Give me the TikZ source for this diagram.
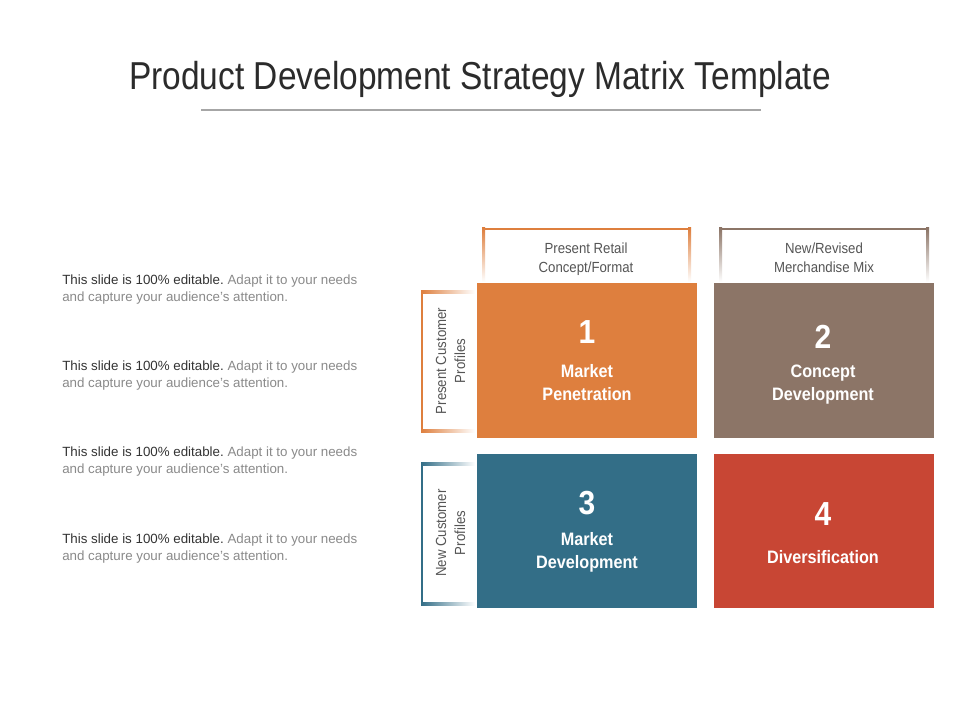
\documentclass[tikz,border=0pt]{standalone}
\usepackage{fontspec}
\setmainfont{Liberation Sans}
\newfontfamily\condfont{Liberation Sans}[FakeStretch=0.86]
\newfontfamily\headfont{Liberation Sans}[FakeStretch=0.9]
\newfontfamily\condbold{Liberation Sans Bold}[FakeStretch=0.9]
\definecolor{corange}{HTML}{DE7F3E}
\definecolor{cbrown}{HTML}{8C7567}
\definecolor{cblue}{HTML}{336E87}
\definecolor{cred}{HTML}{C84634}
\definecolor{ctitle}{HTML}{2B2B2B}
\definecolor{cgraytxt}{HTML}{8A8A8A}
\definecolor{cdark}{HTML}{333333}
\definecolor{chead}{HTML}{555555}
\frenchspacing
\begin{document}
\begin{tikzpicture}[x=0.75pt,y=-0.75pt,
  cell/.style={draw=none,minimum width=165pt,minimum height=116pt,inner sep=0pt},
  num/.style={text=white,font=\condbold\fontsize{25}{28}\selectfont,inner sep=0pt},
  lab/.style={text=white,align=center,font=\condbold\fontsize{13.5}{17.25}\selectfont,inner sep=0pt},
  head/.style={text=chead,align=center,font=\headfont\fontsize{11}{14.25}\selectfont,inner sep=0pt},
  side/.style={text=chead,align=center,rotate=90,font=\headfont\fontsize{11}{14.25}\selectfont,inner sep=0pt},
  desc/.style={anchor=west,align=left,inner sep=0pt,font=\fontsize{10}{12.75}\selectfont,text=cgraytxt}]
\useasboundingbox (0,0) rectangle (960,720);
\fill[white] (0,0) rectangle (960,720);

% title
\node[text=ctitle,font=\condfont\fontsize{29.2}{32}\selectfont,inner sep=0pt] (title) at (480,79) {Product Development Strategy Matrix Template};
\coordinate (tl) at (201,110);
\coordinate (tr) at (761,110);
\draw[color=gray!70,line width=0.8pt] (tl) -- (tr);

% header brackets
\draw[corange,line width=1.8pt] (482,229) -- (691,229);
\shade[top color=corange,bottom color=white] (482,228) rectangle (485,282);
\shade[top color=corange,bottom color=white] (688,228) rectangle (691,282);
\draw[cbrown,line width=1.8pt] (719,229) -- (929,229);
\shade[top color=cbrown,bottom color=white] (719,228) rectangle (722,282);
\shade[top color=cbrown,bottom color=white] (926,228) rectangle (929,282);
\node[head] (h1) at (586,259) {Present Retail\\Concept/Format};
\node[head] (h2) at (824,258) {New/Revised\\Merchandise Mix};

% side brackets
\draw[corange,line width=1.8pt] (422,291) -- (422,432);
\shade[left color=corange,right color=white] (421,291) rectangle (475,294);
\shade[left color=corange,right color=white] (421,429) rectangle (475,432);
\draw[cblue,line width=1.8pt] (422,462) -- (422,605);
\shade[left color=cblue,right color=white] (421,462) rectangle (475,465);
\shade[left color=cblue,right color=white] (421,602) rectangle (475,605);
\node[side] (s1) at (450.5,361) {Present Customer\\Profiles};
\node[side] (s2) at (450.5,533) {New Customer\\Profiles};

% cells
\node[cell,fill=corange] (c1) at (587,360.5) {};
\node[cell,fill=cbrown] (c2) at (824,360.5) {};
\node[cell,fill=cblue] (c3) at (587,531) {};
\node[cell,fill=cred] (c4) at (824,531) {};

\node[num] (n1) at (587,332) {1};
\node[lab] (l1) at (587,383) {Market\\Penetration};
\node[num] (n2) at (823,337) {2};
\node[lab] (l2) at (823,385) {Concept\\Development};
\node[num] (n3) at (587,503) {3};
\node[lab] (l3) at (587,552) {Market\\Development};
\node[num] (n4) at (823,514) {4};
\node[lab] (l4) at (823,557) {Diversification};

% description texts
\node[desc] (d1) at (62,289.5) {\textcolor{cdark}{This slide is 100\% editable.} Adapt it to your needs\\and capture your audience's attention.};
\node[desc] (d2) at (62,375.5) {\textcolor{cdark}{This slide is 100\% editable.} Adapt it to your needs\\and capture your audience's attention.};
\node[desc] (d3) at (62,462) {\textcolor{cdark}{This slide is 100\% editable.} Adapt it to your needs\\and capture your audience's attention.};
\node[desc] (d4) at (62,548.5) {\textcolor{cdark}{This slide is 100\% editable.} Adapt it to your needs\\and capture your audience's attention.};
\end{tikzpicture}
\end{document}
